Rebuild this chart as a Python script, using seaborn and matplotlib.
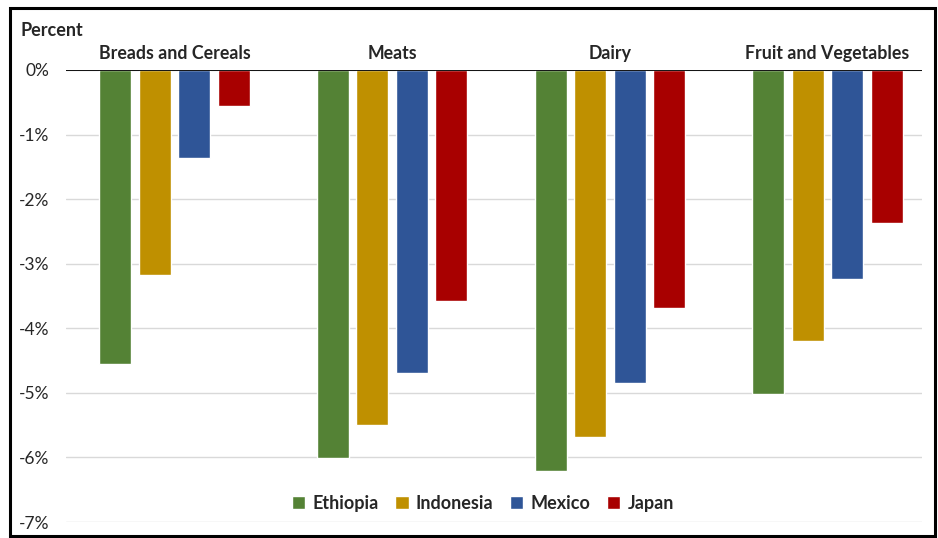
import pandas as pd
import seaborn as sns
import matplotlib
matplotlib.use('Agg')
import matplotlib.pyplot as plt
from matplotlib.patches import Rectangle
from matplotlib.ticker import FuncFormatter

categories = ['Breads and Cereals', 'Meats', 'Dairy', 'Fruit and Vegetables']
countries = ['Ethiopia', 'Indonesia', 'Mexico', 'Japan']
ethiopia = [-4.55, -6.01, -6.21, -5.02]
indonesia = [-3.17, -5.50, -5.68, -4.20]
mexico = [-1.36, -4.69, -4.85, -3.24]
japan = [-0.56, -3.58, -3.68, -2.37]
colors = ['#548235', '#BF9000', '#2F5597', '#A80000']

rows = []
for name, vals in zip(countries, [ethiopia, indonesia, mexico, japan]):
    for cat, v in zip(categories, vals):
        rows.append({'category': cat, 'country': name, 'value': v})
df = pd.DataFrame(rows)

sns.set_style('white')
plt.rcParams['font.family'] = ['Lato', 'DejaVu Sans']

fig = plt.figure(figsize=(9.38, 5.38), dpi=100)
ax = fig.add_axes([0.0704, 0.0297, 0.9126, 0.8403])

sns.barplot(data=df, x='category', y='value', hue='country', order=categories,
            hue_order=countries, palette=colors, width=0.726, gap=0.19,
            saturation=1, ax=ax)

ax.set_ylim(-7, 0)
ax.set_xlim(-0.498, 3.434)
ax.set_yticks(range(-7, 1))
ax.yaxis.set_major_formatter(FuncFormatter(lambda v, p: '%d%%' % v))
ax.grid(axis='y', color='#d9d9d9', linewidth=1)
ax.set_axisbelow(True)
ax.axhline(0, color='black', linewidth=1.3)
for s in ax.spines.values():
    s.set_visible(False)
ax.xaxis.tick_top()
ax.tick_params(axis='x', length=0, pad=6, labelsize=12.8)
ax.tick_params(axis='y', length=0, pad=12, labelsize=12.5)
for t in ax.get_xticklabels():
    t.set_fontweight('bold')
ax.set_xlabel('')
ax.set_ylabel('')

fig.text(20 / 938, 1 - 31 / 538, 'Percent', fontsize=13, fontweight='bold',
         va='center', ha='left')

handles, labels = ax.get_legend_handles_labels()
ax.legend(handles, labels, loc='center', bbox_to_anchor=(0.487, 0.042), ncol=4,
          frameon=False, fontsize=13, handlelength=0.75, handleheight=0.75,
          handletextpad=0.4, columnspacing=0.9)
for t in ax.get_legend().get_texts():
    t.set_fontweight('bold')

fig.patches.append(Rectangle((10 / 938, 2 / 538), 925 / 938, 528 / 538,
                             transform=fig.transFigure, fill=False,
                             edgecolor='black', linewidth=2.2))

fig.savefig('out.png', dpi=100)
